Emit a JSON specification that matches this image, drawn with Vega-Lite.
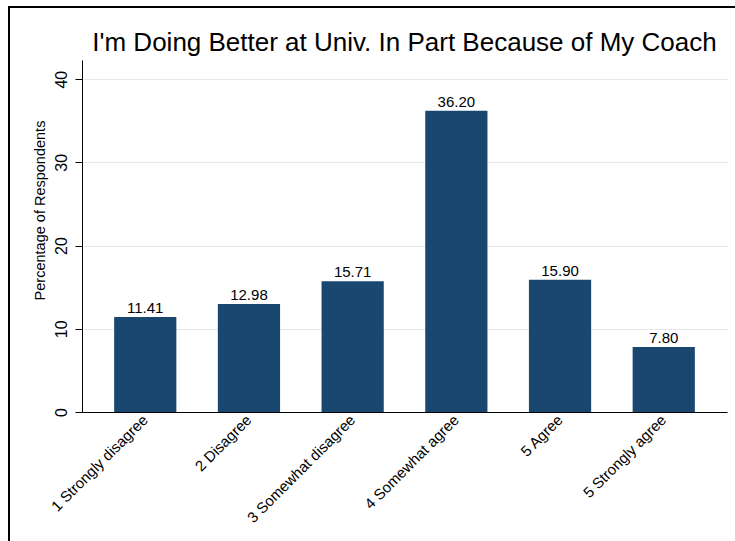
{
  "$schema": "https://vega.github.io/schema/vega-lite/v6.json",
  "autosize": {"type": "none"},
  "padding": {"left": 9, "top": 7, "right": 0, "bottom": 0},
  "width": 791,
  "height": 540,
  "background": "white",
  "title": {
    "text": "I'm Doing Better at Univ. In Part Because of My Coach",
    "anchor": "middle",
    "frame": "group",
    "font": "Liberation Sans",
    "fontSize": 26,
    "fontWeight": "normal",
    "color": "black",
    "baseline": "alphabetic",
    "offset": 0,
    "dy": 70
  },
  "data": {
    "values": [
      {"response": "1 Strongly disagree", "percent": 11.41},
      {"response": "2 Disagree", "percent": 12.98},
      {"response": "3 Somewhat disagree", "percent": 15.71},
      {"response": "4 Somewhat agree", "percent": 36.2},
      {"response": "5 Agree", "percent": 15.9},
      {"response": "5 Strongly agree", "percent": 7.8}
    ]
  },
  "encoding": {
    "x": {
      "field": "response",
      "type": "nominal",
      "sort": null,
      "scale": {"range": [73, 718], "paddingInner": 0.4, "paddingOuter": 0.31},
      "axis": {
        "title": null,
        "offset": -135,
        "ticks": false,
        "grid": false,
        "domainColor": "black",
        "domainWidth": 1,
        "labelAngle": 315,
        "labelAlign": "right",
        "labelBaseline": "middle",
        "labelPadding": 5,
        "labelFont": "Liberation Sans",
        "labelFontSize": 15,
        "labelColor": "black"
      }
    },
    "y": {
      "field": "percent",
      "type": "quantitative",
      "scale": {"domain": [0, 42.3], "range": [405, 53], "nice": false, "zero": true},
      "axis": {
        "title": "Percentage of Respondents",
        "values": [0, 10, 20, 30, 40],
        "offset": -73,
        "grid": true,
        "gridColor": "#e8e8e8",
        "gridWidth": 1,
        "domainColor": "black",
        "domainWidth": 1,
        "tickColor": "black",
        "tickSize": 7,
        "tickWidth": 1,
        "labelAngle": 270,
        "labelAlign": "center",
        "labelBaseline": "alphabetic",
        "labelPadding": 9,
        "labelFont": "Liberation Sans",
        "labelFontSize": 16,
        "labelColor": "black",
        "titleFont": "Liberation Sans",
        "titleFontSize": 14.5,
        "titleFontWeight": "normal",
        "titleColor": "black",
        "titleAngle": 270,
        "titleAlign": "center",
        "titleBaseline": "alphabetic",
        "titleX": -38,
        "titleY": 203
      }
    }
  },
  "layer": [
    {"mark": {"type": "bar", "color": "#1a476f"}},
    {
      "mark": {
        "type": "text",
        "dy": -4,
        "baseline": "alphabetic",
        "font": "Liberation Sans",
        "fontSize": 15,
        "color": "black"
      },
      "encoding": {
        "text": {"field": "percent", "type": "quantitative", "format": ".2f"}
      }
    }
  ],
  "config": {"view": {"stroke": "black", "strokeWidth": 2}}
}
